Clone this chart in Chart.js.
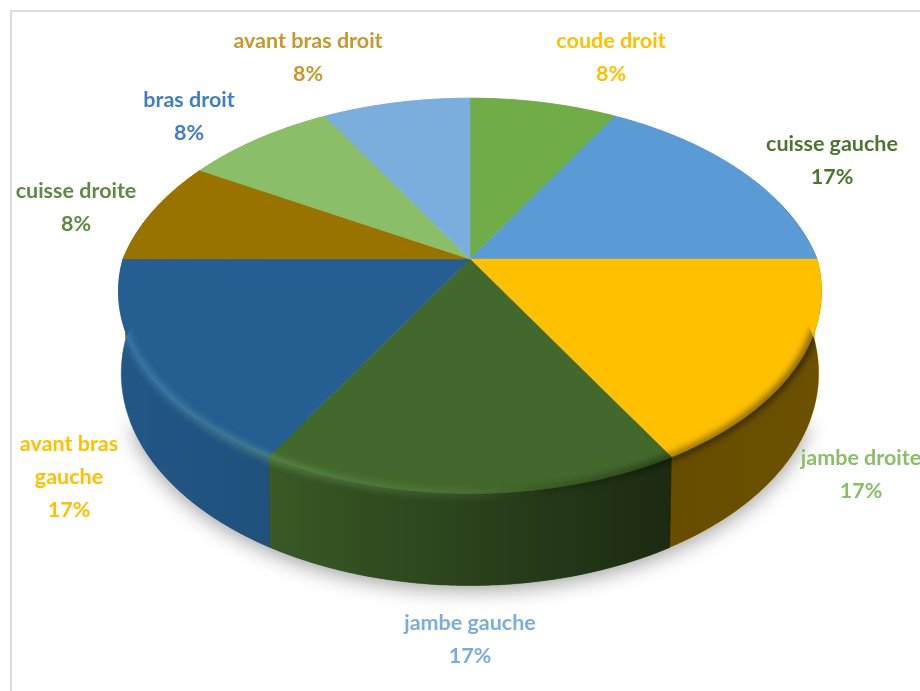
<!DOCTYPE html>
<html>
<head>
<meta charset="utf-8">
<script src="https://cdn.jsdelivr.net/npm/chart.js@4/dist/chart.umd.min.js"></script>
<style>
  html, body { margin: 0; padding: 0; background: #fff; overflow: hidden; }
  #frame { position: absolute; left: 10px; top: 10px; width: 920px; height: 700px; border: 2px solid #dcdcdc; box-sizing: border-box; }
  #c { position: absolute; left: 0; top: 0; }
</style>
</head>
<body>
<div id="frame"></div>
<canvas id="c" width="920" height="691"></canvas>
<script>
const categories = ['coude droit', 'cuisse gauche', 'jambe droite', 'jambe gauche', 'avant bras gauche', 'cuisse droite', 'bras droit', 'avant bras droit'];
const shares = [8.33, 16.67, 16.67, 16.67, 16.67, 8.33, 8.33, 8.33];
const sliceColors = ['#70AD47', '#5B9BD5', '#FFC000', '#43682B', '#255E91', '#997300', '#8BBE69', '#7BAEDC'];
const labelColors = ['#FFC000', '#4C7530', '#8BBE69', '#7BAEDC', '#FFC000', '#5C8A45', '#3F7FBF', '#C8982A'];

// label centre and line breaks, one entry per slice
const labelPlace = [
  { x: 611, y: 41.5, lines: ['coude droit'] },
  { x: 832, y: 144.5, lines: ['cuisse gauche'] },
  { x: 861, y: 458.5, lines: ['jambe droite'] },
  { x: 470, y: 623.5, lines: ['jambe gauche'] },
  { x: 69, y: 444.5, lines: ['avant bras', 'gauche'] },
  { x: 76, y: 191.5, lines: ['cuisse droite'] },
  { x: 189, y: 100.5, lines: ['bras droit'] },
  { x: 308, y: 41.5, lines: ['avant bras droit'] }
];

// perspective view of the disc
const cx = 470, cy = 259, rx = 347;
function project(theta, drop) {
  const X = Math.sin(theta), Y = Math.cos(theta);
  const p = Y > 0 ? 0.225 : 0.16;
  const k = 1 / (1 + p * Y);
  if (!drop) return [cx + rx * X * k, cy - 197 * Y * k];
  const depth = 80 + (Y < 0 ? -Y * 12 : 0);
  return [cx + 0.992 * rx * X * k, cy - 197 * Y * k + depth];
}

function rimPath(ctx, a, b, drop, first) {
  const n = Math.max(2, Math.ceil(Math.abs(b - a) / 0.01));
  for (let i = 0; i <= n; i++) {
    const t = a + (b - a) * i / n;
    const q = project(t, drop);
    if (i === 0 && first) ctx.moveTo(q[0], q[1]); else ctx.lineTo(q[0], q[1]);
  }
}

const disc3d = {
  id: 'disc3d',
  beforeDatasetsDraw(chart) {
    const ctx = chart.ctx;
    const arcs = chart.getDatasetMeta(0).data.map(a => ({
      a: a.startAngle + Math.PI / 2,
      b: a.endAngle + Math.PI / 2,
      color: a.options.backgroundColor
    }));
    const wallShape = () => {
      ctx.beginPath();
      rimPath(ctx, Math.PI * 0.4, Math.PI * 1.6, false, true);
      rimPath(ctx, Math.PI * 1.6, Math.PI * 0.4, true, false);
      ctx.closePath();
    };

    // soft shadow below the disc
    ctx.save();
    ctx.shadowColor = 'rgba(0,0,0,0.36)';
    ctx.shadowBlur = 20;
    ctx.shadowOffsetY = 5;
    ctx.fillStyle = '#444';
    ctx.beginPath();
    rimPath(ctx, Math.PI * 0.62, Math.PI * 1.38, true, true);
    ctx.closePath();
    ctx.fill();
    ctx.restore();

    // side wall
    arcs.forEach(s => {
      ctx.beginPath();
      rimPath(ctx, s.a, s.b, false, true);
      rimPath(ctx, s.b, s.a, true, false);
      ctx.closePath();
      ctx.fillStyle = s.color;
      ctx.fill();
      ctx.strokeStyle = s.color;
      ctx.lineWidth = 0.6;
      ctx.stroke();
    });
    const shade = ctx.createLinearGradient(118, 0, 822, 0);
    shade.addColorStop(0, 'rgba(0,0,0,0.08)');
    shade.addColorStop(0.21, 'rgba(0,0,0,0.14)');
    shade.addColorStop(0.5, 'rgba(0,0,0,0.37)');
    shade.addColorStop(0.79, 'rgba(0,0,0,0.6)');
    shade.addColorStop(1, 'rgba(0,0,0,0.58)');
    ctx.fillStyle = shade;
    wallShape();
    ctx.fill();

    // top face
    arcs.forEach(s => {
      ctx.beginPath();
      ctx.moveTo(cx, cy);
      rimPath(ctx, s.a, s.b, false, false);
      ctx.closePath();
      ctx.fillStyle = s.color;
      ctx.fill();
      ctx.strokeStyle = s.color;
      ctx.lineWidth = 0.5;
      ctx.stroke();
    });

    // bevel on the front rim: light on the left, dark on the right
    const bevel = ctx.createLinearGradient(118, 0, 822, 0);
    bevel.addColorStop(0, 'rgba(110,180,250,0.26)');
    bevel.addColorStop(0.21, 'rgba(130,200,130,0.32)');
    bevel.addColorStop(0.5, 'rgba(110,160,80,0.2)');
    bevel.addColorStop(0.62, 'rgba(0,0,0,0.16)');
    bevel.addColorStop(0.8, 'rgba(0,0,0,0.4)');
    bevel.addColorStop(1, 'rgba(0,0,0,0.5)');
    ctx.save();
    ctx.beginPath();
    rimPath(ctx, Math.PI * 0.4, Math.PI * 1.6, true, true);
    rimPath(ctx, Math.PI * 1.6, Math.PI * 2.4, false, false);
    ctx.closePath();
    ctx.clip();
    ctx.filter = 'blur(3px)';
    ctx.strokeStyle = bevel;
    ctx.lineWidth = 8;
    ctx.beginPath();
    rimPath(ctx, Math.PI * 0.5, Math.PI * 1.5, false, true);
    ctx.stroke();
    ctx.restore();
    return false;
  },
  afterDraw(chart) {
    const ctx = chart.ctx;
    const total = shares.reduce((s, v) => s + v, 0);
    ctx.save();
    ctx.textAlign = 'center';
    ctx.textBaseline = 'middle';
    ctx.font = 'bold 21.5px Lato';
    labelPlace.forEach((l, i) => {
      ctx.fillStyle = labelColors[i];
      const rows = l.lines.concat(Math.round(shares[i] / total * 100) + '%');
      rows.forEach((t, j) => ctx.fillText(t, l.x, l.y + j * 33));
    });
    ctx.restore();
  }
};

new Chart(document.getElementById('c').getContext('2d'), {
  type: 'pie',
  data: { labels: categories, datasets: [{ data: shares, backgroundColor: sliceColors, borderWidth: 0 }] },
  options: {
    responsive: false,
    animation: false,
    plugins: { legend: { display: false }, tooltip: { enabled: false } }
  },
  plugins: [disc3d]
});
</script>
</body>
</html>
